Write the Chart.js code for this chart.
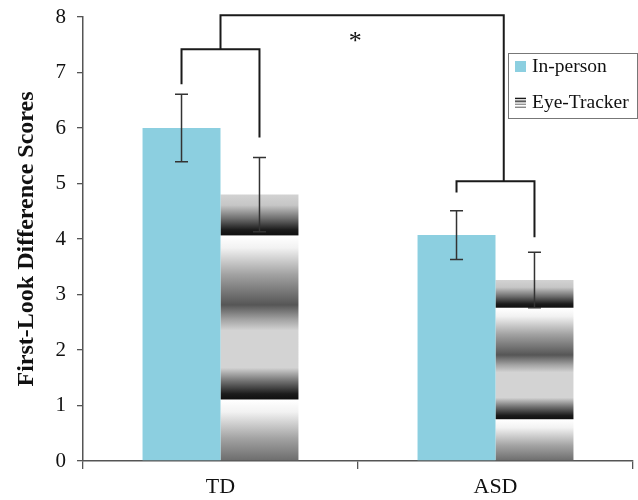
<!DOCTYPE html>
<html><head><meta charset="utf-8">
<script src="https://cdn.jsdelivr.net/npm/chart.js@4/dist/chart.umd.min.js"></script>
<style>html,body{margin:0;padding:0;background:#fff}#wrap{width:638px;height:500px;position:relative}</style>
</head><body><div id="wrap"><canvas id="c"></canvas></div>
<script>
const categories = ['TD', 'ASD'];
const seriesNames = ['In-person', 'Eye-Tracker'];
const inPersonValues = [6.0, 4.07];
const eyeTrackerValues = [4.8, 3.26];
const inPersonErrors = [0.61, 0.44];
const eyeTrackerErrors = [0.67, 0.5];
const yTickMin = 0;
const yTickMax = 8;
const yTickStep = 1;
const yTitle = 'First-Look Difference Scores';
const significanceMark = '*';
// within-group brackets: [left end value, right end value, bar level]
const bracketTD = [6.79, 5.83, 7.42];
const bracketASD = [4.84, 4.03, 5.04];
// between-group bracket: [from category, to category, level]
const bracketBetween = [0, 1.03, 8.03];
const markPosition = [0.49, 7.55];

const inPersonColor = '#8ccfe0';
const stripeStops = [
  [0.000,'#d2d2d2'],[0.040,'#c6c6c6'],[0.090,'#6e6e6e'],[0.132,'#1c1c1c'],[0.150,'#111111'],
  [0.156,'#ffffff'],[0.200,'#f2f2f2'],[0.300,'#a2a2a2'],[0.414,'#565656'],[0.470,'#a4a4a4'],
  [0.510,'#d3d3d3'],[0.650,'#d3d3d3'],[0.700,'#727272'],[0.748,'#1c1c1c'],[0.766,'#111111'],
  [0.772,'#ffffff'],[0.816,'#f2f2f2'],[0.916,'#a2a2a2'],[1.000,'#6c6c6c']
];
function stripeGradient(c, top, bottom) {
  const g = c.createLinearGradient(0, top, 0, bottom);
  stripeStops.forEach(([o, col]) => g.addColorStop(o, col));
  return g;
}
function eyeTrackerFill(ctx) {
  const chart = ctx.chart;
  if (!chart.chartArea || ctx.type !== 'data') return '#999999';
  const y = chart.scales.y;
  return stripeGradient(chart.ctx, y.getPixelForValue(ctx.raw), y.getPixelForValue(0));
}

const overlay = {
  id: 'overlay',
  afterDatasetsDraw(chart) {
    const c = chart.ctx, x = chart.scales.x, y = chart.scales.y;
    const errs = [inPersonErrors, eyeTrackerErrors];
    const vals = [inPersonValues, eyeTrackerValues];
    c.save();
    // error bars
    c.strokeStyle = '#333'; c.lineWidth = 1.5;
    errs.forEach((e, i) => {
      const meta = chart.getDatasetMeta(i);
      meta.data.forEach((el, j) => {
        const t = y.getPixelForValue(vals[i][j] + e[j]);
        const b = y.getPixelForValue(vals[i][j] - e[j]);
        c.beginPath();
        c.moveTo(el.x, t); c.lineTo(el.x, b);
        c.moveTo(el.x - 6.5, t); c.lineTo(el.x + 6.5, t);
        c.moveTo(el.x - 6.5, b); c.lineTo(el.x + 6.5, b);
        c.stroke();
      });
    });
    // brackets
    c.strokeStyle = '#1a1a1a'; c.lineWidth = 2;
    [[0, bracketTD], [1, bracketASD]].forEach(([j, br]) => {
      const x1 = chart.getDatasetMeta(0).data[j].x;
      const x2 = chart.getDatasetMeta(1).data[j].x;
      c.beginPath();
      c.moveTo(x1, y.getPixelForValue(br[0]));
      c.lineTo(x1, y.getPixelForValue(br[2]));
      c.lineTo(x2, y.getPixelForValue(br[2]));
      c.lineTo(x2, y.getPixelForValue(br[1]));
      c.stroke();
    });
    const bx1 = x.getPixelForValue(bracketBetween[0]);
    const bx2 = x.getPixelForValue(bracketBetween[1]);
    c.beginPath();
    c.moveTo(bx1, y.getPixelForValue(bracketTD[2]));
    c.lineTo(bx1, y.getPixelForValue(bracketBetween[2]));
    c.lineTo(bx2, y.getPixelForValue(bracketBetween[2]));
    c.lineTo(bx2, y.getPixelForValue(bracketASD[2]));
    c.stroke();
    // significance mark
    c.fillStyle = '#111';
    c.font = '26px "Liberation Serif"';
    c.textAlign = 'center'; c.textBaseline = 'middle';
    c.fillText(significanceMark, x.getPixelForValue(markPosition[0]), y.getPixelForValue(markPosition[1]));
    // legend
    const a = chart.chartArea;
    const lx = a.right - 125, ly = a.top + 36;
    c.fillStyle = '#fff';
    c.fillRect(lx, ly, 129, 65);
    c.strokeStyle = '#777'; c.lineWidth = 1;
    c.strokeRect(lx + 0.5, ly + 0.5, 129, 65);
    c.fillStyle = inPersonColor;
    c.fillRect(lx + 7, ly + 8, 11, 11);
    c.fillStyle = stripeGradient(c, ly + 44, ly + 55);
    c.fillRect(lx + 7, ly + 44, 11, 11);
    c.fillStyle = '#111';
    c.font = '19.5px "Liberation Serif"';
    c.textAlign = 'left'; c.textBaseline = 'middle';
    c.fillText(seriesNames[0], lx + 24, ly + 14);
    c.fillText(seriesNames[1], lx + 24, ly + 50);
    c.restore();
  }
};

new Chart(document.getElementById('c'), {
  type: 'bar',
  data: {
    labels: categories,
    datasets: [
      {label: seriesNames[0], data: inPersonValues, backgroundColor: inPersonColor, borderWidth: 0},
      {label: seriesNames[1], data: eyeTrackerValues, backgroundColor: eyeTrackerFill, borderWidth: 0}
    ]
  },
  options: {
    responsive: true,
    maintainAspectRatio: false,
    animation: false,
    datasets: {bar: {barPercentage: 1, categoryPercentage: 0.567}},
    layout: {padding: {left: 12, top: 17, right: 5, bottom: 0}},
    plugins: {legend: {display: false}, tooltip: {enabled: false}},
    scales: {
      x: {
        grid: {display: true, drawOnChartArea: false, drawTicks: true, tickLength: 8, color: '#555', lineWidth: 1.3, offset: true},
        border: {display: true, color: '#555', width: 1.5},
        ticks: {font: {family: 'Liberation Serif', size: 22}, color: '#111', padding: 5},
        afterFit: s => { s.height = 39; s.paddingLeft = 0; s.paddingRight = 0; }
      },
      y: {
        min: yTickMin, max: yTickMax,
        ticks: {stepSize: yTickStep, font: {family: 'Liberation Serif', size: 21}, color: '#111', padding: 11},
        grid: {display: true, drawOnChartArea: false, drawTicks: true, tickLength: 6, color: '#555', lineWidth: 1.3},
        border: {display: true, color: '#555', width: 1.5},
        title: {display: true, text: yTitle, font: {family: 'Liberation Serif', size: 24, weight: 'bold'}, color: '#111', padding: 0},
        afterFit: s => { s.width = 71; s.paddingTop = 0; s.paddingBottom = 0; }
      }
    }
  },
  plugins: [overlay]
});
</script>
</body></html>
